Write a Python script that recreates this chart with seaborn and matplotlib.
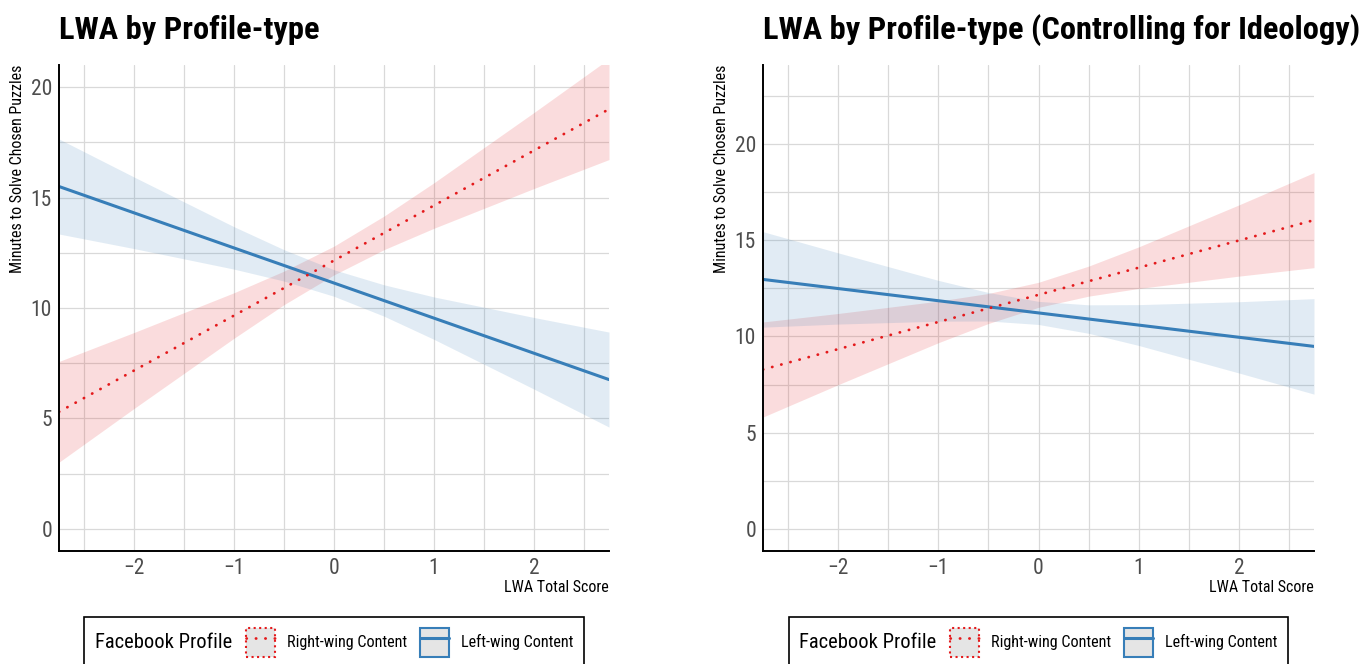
import seaborn as sns
import matplotlib.pyplot as plt
from matplotlib import font_manager
from matplotlib.patches import Rectangle
from matplotlib.lines import Line2D
from matplotlib.offsetbox import HPacker
from matplotlib.ticker import MultipleLocator

# values
line_x = [-2.75, 2.75]
band_x = [-2.75, -2, -1, -0.5, 0, 0.5, 1, 2, 2.75]
series_names = ["Right-wing Content", "Left-wing Content"]

# panel 1: LWA by Profile-type
p1_right_line = [5.30, 19.00]
p1_right_lo = [3.02, 5.45, 8.63, 10.15, 11.50, 12.64, 13.61, 15.41, 16.72]
p1_right_hi = [7.58, 8.89, 10.69, 11.67, 12.80, 14.16, 15.67, 18.85, 21.28]
p1_left_line = [15.50, 6.76]
p1_left_lo = [13.35, 12.69, 11.76, 11.22, 10.53, 9.63, 8.58, 6.33, 4.61]
p1_left_hi = [17.65, 15.93, 13.68, 12.64, 11.73, 11.05, 10.50, 9.57, 8.91]

# panel 2: controlling for ideology
p2_right_line = [8.28, 16.04]
p2_right_lo = [5.81, 7.49, 9.67, 10.67, 11.51, 12.09, 12.49, 13.13, 13.57]
p2_right_hi = [10.75, 11.19, 11.83, 12.23, 12.81, 13.65, 14.65, 16.83, 18.51]
p2_left_line = [12.96, 9.48]
p2_left_lo = [10.48, 10.64, 10.79, 10.80, 10.62, 10.16, 9.53, 8.10, 7.00]
p2_left_hi = [15.44, 14.34, 12.91, 12.28, 11.82, 11.64, 11.65, 11.80, 11.96]

titles = ["LWA by Profile-type", "LWA by Profile-type (Controlling for Ideology)"]
ylims = [(-1, 21), (-1.15, 24.1)]

red = "#E41A1C"
blue = "#377EB8"
dots = (0, (0.1, 3.3))

sns.set_style("white")
names = {f.name for f in font_manager.fontManager.ttflist}
cond = next((n for n in ["Roboto Condensed", "Liberation Sans Narrow", "Roboto"] if n in names), "DejaVu Sans")
plt.rcParams["font.family"] = [cond, "DejaVu Sans"]

fig = plt.figure(figsize=(13.64, 6.64), dpi=100)
ax1 = fig.add_axes([59 / 1364, 113 / 664, 550 / 1364, 486 / 664])
ax2 = fig.add_axes([763 / 1364, 113 / 664, 551 / 1364, 486 / 664])

panels = [
    (ax1, p1_right_line, p1_right_lo, p1_right_hi, p1_left_line, p1_left_lo, p1_left_hi),
    (ax2, p2_right_line, p2_right_lo, p2_right_hi, p2_left_line, p2_left_lo, p2_left_hi),
]

for i, (ax, rl, rlo, rhi, ll, llo, lhi) in enumerate(panels):
    ax.fill_between(band_x, rlo, rhi, color=red, alpha=0.15, lw=0)
    ax.fill_between(band_x, llo, lhi, color=blue, alpha=0.15, lw=0)
    sns.lineplot(x=line_x, y=ll, color=blue, lw=2.2, ax=ax)
    sns.lineplot(x=line_x, y=rl, color=red, lw=2.0, ax=ax)
    ax.lines[-1].set_linestyle(dots)
    ax.lines[-1].set_dash_capstyle("round")

    ax.set_xlim(-2.75, 2.75)
    ax.set_ylim(*ylims[i])
    ax.xaxis.set_major_locator(MultipleLocator(1))
    ax.xaxis.set_minor_locator(MultipleLocator(0.5))
    ax.yaxis.set_major_locator(MultipleLocator(5))
    ax.yaxis.set_minor_locator(MultipleLocator(2.5))
    ax.grid(True, which="both", color="#d9d9d9", lw=0.9)
    ax.set_axisbelow(True)
    ax.tick_params(which="both", length=0, labelsize=15.5, labelcolor="#4d4d4d", pad=5)
    for s in ["top", "right"]:
        ax.spines[s].set_visible(False)
    for s in ["left", "bottom"]:
        ax.spines[s].set_color("black")
        ax.spines[s].set_linewidth(1.4)

    ax.set_title(titles[i], loc="left", fontsize=23.3, fontweight="bold", color="black", pad=18.5)
    ax.set_ylabel("Minutes to Solve Chosen Puzzles", fontsize=11.5, color="black", loc="top")
    ax.yaxis.set_label_coords(-34 / 550, 1.0)
    ax.set_xlabel("LWA Total Score", fontsize=11.5, color="black", loc="right")
    ax.xaxis.set_label_coords(1.0, -0.06)

    hr = (Rectangle((0, 0), 1, 1, facecolor="#e5e5e5", edgecolor=red, lw=1.5, linestyle=":"),
          Line2D([], [], color=red, lw=2, linestyle=dots, dash_capstyle="round"))
    hb = (Rectangle((0, 0), 1, 1, facecolor="#e5e5e5", edgecolor=blue, lw=1.5),
          Line2D([], [], color=blue, lw=2.2))
    leg = ax.legend([hr, hb], series_names, title="Facebook Profile",
                    loc="upper center", bbox_to_anchor=(0.5, -0.12), ncol=2,
                    fontsize=11.6, title_fontsize=14.8, handlelength=1.8, handleheight=2.4,
                    handletextpad=0.75, columnspacing=0.8, borderpad=0.65,
                    fancybox=False, edgecolor="black", framealpha=1)
    leg.get_frame().set_linewidth(1.2)
    plt.setp(leg.get_texts(), color="black")
    leg.get_title().set_color("black")
    # put the legend title to the left of the keys, like ggplot
    box = leg._legend_box
    leg._legend_box = HPacker(pad=box.pad, sep=10, align="center", children=box.get_children())
    leg._legend_box.set_figure(fig)
    leg._legend_box.axes = ax
    leg._legend_box.set_offset(leg._findoffset)

fig.savefig("out.png", dpi=100)
